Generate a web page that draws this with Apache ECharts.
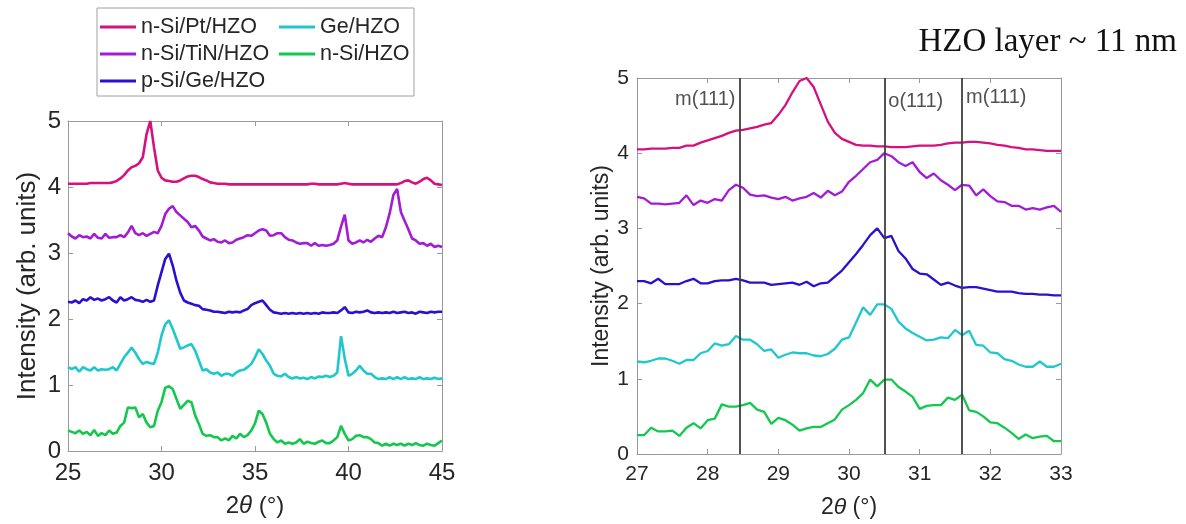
<!DOCTYPE html>
<html>
<head>
<meta charset="utf-8">
<script src="https://cdn.jsdelivr.net/npm/echarts@6/dist/echarts.min.js"></script>
<style>
html,body{margin:0;padding:0;background:#fff;}
#chart{width:1186px;height:524px;}
</style>
</head>
<body>
<div id="chart"></div>
<script>
// ---------- DATA ----------
const seriesNames = ['n-Si/Pt/HZO', 'n-Si/TiN/HZO', 'p-Si/Ge/HZO', 'Ge/HZO', 'n-Si/HZO'];
const seriesColors = ['#D4117F', '#A21CD6', '#2C10CF', '#1EC8CC', '#14C84E'];

// Left panel: 2theta from 25 to 45, sampled every 0.2 deg
const leftStart = 25, leftStep = 0.2;
const leftPt = [4.05,4.05,4.05,4.05,4.05,4.05,4.06,4.06,4.06,4.06,4.06,4.06,4.07,4.09,4.13,4.18,4.25,4.30,4.32,4.36,
  4.45,4.80,5.00,4.60,4.25,4.14,4.10,4.09,4.08,4.08,4.10,4.13,4.16,4.17,4.17,4.15,4.12,4.10,4.07,4.06,4.05,
  4.05,4.05,4.04,4.04,4.04,4.04,4.04,4.04,4.04,4.04,4.04,4.04,4.04,4.04,4.04,4.04,4.04,4.04,4.04,4.04,4.04,4.04,4.04,4.04,4.05,4.05,4.04,4.04,4.04,4.04,4.04,4.04,4.05,
  4.06,4.05,
  4.04,4.04,4.04,4.04,4.04,4.04,4.04,4.04,4.04,4.04,4.04,4.04,4.04,
  4.06,4.09,4.10,4.07,4.05,4.08,4.12,4.14,4.10,4.05,4.04,4.03];
const leftTiN = [3.30,3.25,3.22,3.27,3.24,3.25,3.22,3.29,3.23,3.22,3.29,3.23,3.24,3.24,3.27,3.24,3.31,3.41,3.30,3.27,
  3.30,3.26,3.29,3.32,3.30,3.41,3.59,3.67,3.71,3.62,3.57,3.52,3.47,3.39,3.41,3.34,3.25,3.22,3.19,3.21,
  3.17,3.16,3.19,3.15,3.16,3.20,3.22,3.24,3.27,3.26,3.30,3.34,3.36,3.34,3.26,3.27,3.30,3.30,3.24,3.20,
  3.19,3.16,3.14,3.15,3.15,3.11,3.15,3.11,3.12,3.11,3.12,3.14,3.19,3.40,3.58,3.19,3.14,3.16,3.19,3.16,
  3.20,3.17,3.22,3.26,3.24,3.39,3.60,3.88,3.97,3.62,3.49,3.36,3.22,3.19,3.14,3.15,3.11,3.14,3.09,3.11,3.09];
const leftPSiGe = [2.26,2.25,2.28,2.24,2.30,2.28,2.33,2.29,2.31,2.28,2.30,2.33,2.28,2.25,2.33,2.28,2.30,2.33,2.29,2.28,
  2.26,2.29,2.26,2.28,2.51,2.71,2.91,2.99,2.81,2.58,2.40,2.28,2.25,2.23,2.21,2.20,2.15,2.14,2.13,2.11,
  2.11,2.10,2.09,2.11,2.10,2.11,2.10,2.13,2.15,2.21,2.24,2.26,2.28,2.21,2.14,2.10,2.09,2.08,2.09,2.08,
  2.09,2.08,2.09,2.08,2.09,2.08,2.09,2.08,2.10,2.09,2.09,2.10,2.09,2.13,2.18,2.10,2.09,2.11,2.10,2.11,
  2.13,2.10,2.09,2.10,2.09,2.10,2.09,2.11,2.09,2.10,2.11,2.09,2.10,2.08,2.11,2.10,2.09,2.11,2.10,2.11,2.11];
const leftGe = [1.27,1.24,1.27,1.20,1.27,1.24,1.22,1.27,1.22,1.24,1.23,1.24,1.27,1.22,1.32,1.42,1.49,1.57,1.49,1.39,
  1.32,1.35,1.33,1.32,1.49,1.75,1.92,1.98,1.85,1.70,1.55,1.57,1.60,1.62,1.52,1.37,1.22,1.24,1.19,1.17,
  1.19,1.14,1.17,1.17,1.14,1.19,1.22,1.23,1.27,1.32,1.42,1.54,1.47,1.37,1.29,1.17,1.14,1.13,1.17,1.12,
  1.10,1.12,1.10,1.11,1.09,1.12,1.10,1.13,1.12,1.14,1.12,1.14,1.19,1.74,1.40,1.14,1.17,1.22,1.29,1.22,
  1.17,1.17,1.12,1.09,1.10,1.09,1.12,1.09,1.12,1.09,1.12,1.09,1.10,1.09,1.12,1.09,1.10,1.09,1.11,1.09,1.10];
const leftNSi = [0.31,0.29,0.27,0.31,0.26,0.29,0.24,0.32,0.23,0.27,0.24,0.31,0.26,0.28,0.38,0.43,0.66,0.65,0.66,0.51,
  0.56,0.43,0.36,0.38,0.61,0.74,0.96,0.98,0.94,0.79,0.64,0.70,0.76,0.74,0.54,0.41,0.26,0.23,0.24,0.21,
  0.21,0.16,0.19,0.16,0.23,0.19,0.26,0.21,0.24,0.31,0.42,0.61,0.56,0.43,0.26,0.18,0.13,0.16,0.11,0.13,
  0.11,0.13,0.18,0.11,0.14,0.12,0.11,0.14,0.16,0.12,0.12,0.16,0.21,0.38,0.26,0.16,0.18,0.23,0.24,0.21,
  0.21,0.18,0.13,0.12,0.08,0.11,0.08,0.11,0.09,0.11,0.08,0.11,0.09,0.12,0.09,0.08,0.11,0.09,0.08,0.12,0.16];

// Right panel: 2theta from 27 to 33, sampled every 0.1 deg
const rightStart = 27, rightStep = 0.1;
const rightPt = [4.05,4.05,4.06,4.06,4.06,4.07,4.07,4.10,4.10,4.14,
  4.17,4.20,4.23,4.27,4.30,4.31,4.33,4.35,4.38,4.40,
  4.51,4.64,4.81,4.96,5.00,4.88,4.65,4.42,4.27,4.19,
  4.15,4.11,4.10,4.10,4.09,4.09,4.08,4.08,4.08,4.09,
  4.10,4.10,4.10,4.11,4.13,4.14,4.14,4.15,4.15,4.14,
  4.13,4.11,4.10,4.08,4.07,4.05,4.05,4.04,4.03,4.03,4.03];
const rightTiN = [3.42,3.40,3.33,3.33,3.32,3.33,3.34,3.44,3.31,3.37,
  3.34,3.39,3.37,3.51,3.58,3.54,3.45,3.43,3.44,3.41,
  3.39,3.42,3.37,3.40,3.42,3.47,3.41,3.50,3.44,3.49,
  3.62,3.70,3.79,3.88,3.91,4.00,3.96,3.88,3.83,3.88,
  3.75,3.67,3.73,3.64,3.58,3.51,3.58,3.57,3.44,3.52,
  3.43,3.36,3.35,3.30,3.30,3.25,3.27,3.25,3.28,3.30,3.22];
const rightPSiGe = [2.30,2.30,2.27,2.33,2.26,2.26,2.26,2.30,2.33,2.27,
  2.27,2.30,2.31,2.31,2.33,2.31,2.28,2.28,2.28,2.25,
  2.26,2.27,2.28,2.25,2.29,2.23,2.27,2.28,2.36,2.44,
  2.55,2.66,2.78,2.91,3.00,2.87,2.90,2.70,2.60,2.46,
  2.40,2.39,2.32,2.25,2.28,2.24,2.21,2.22,2.22,2.20,
  2.18,2.16,2.16,2.16,2.14,2.13,2.13,2.12,2.12,2.11,2.11];
const rightGe = [1.23,1.22,1.24,1.27,1.27,1.24,1.20,1.25,1.25,1.34,
  1.37,1.47,1.44,1.46,1.57,1.52,1.52,1.46,1.37,1.39,
  1.28,1.32,1.35,1.34,1.34,1.31,1.30,1.33,1.40,1.52,
  1.55,1.75,1.95,1.85,1.99,1.99,1.93,1.76,1.67,1.61,
  1.56,1.51,1.52,1.55,1.54,1.65,1.58,1.64,1.45,1.44,
  1.35,1.34,1.26,1.24,1.19,1.16,1.16,1.23,1.16,1.16,1.20];
const rightNSi = [0.25,0.25,0.35,0.30,0.30,0.31,0.24,0.35,0.41,0.34,
  0.45,0.47,0.66,0.63,0.63,0.65,0.68,0.59,0.56,0.40,
  0.48,0.45,0.39,0.31,0.34,0.36,0.36,0.41,0.46,0.59,
  0.65,0.72,0.81,0.99,0.90,0.99,0.99,0.89,0.83,0.76,
  0.60,0.64,0.65,0.65,0.75,0.72,0.79,0.58,0.56,0.50,
  0.42,0.41,0.35,0.28,0.20,0.26,0.21,0.23,0.24,0.17,0.17];

// Reference lines (phase positions) in right panel
const refX = [28.45, 30.5, 31.6];
const refNames = ['m(111)', 'o(111)', 'm(111)'];
const refLabelY = [4.71, 4.69, 4.74];
const refLabelSide = ['left', 'right', 'right'];

// Axis ranges / ticks
const leftXRange = [25, 45], leftXInterval = 5;
const rightXRange = [27, 33], rightXInterval = 1;
const yRange = [0, 5], yInterval = 1;

const titleText = 'HZO layer ~ 11 nm';
const yAxisTitle = 'Intensity (arb. units)';
// ---------- END DATA ----------

const leftData = [leftPt, leftTiN, leftPSiGe, leftGe, leftNSi];
const rightData = [rightPt, rightTiN, rightPSiGe, rightGe, rightNSi];

function pairs(start, step, ys) {
  return ys.map((y, i) => [+(start + i * step).toFixed(2), y]);
}

const FONT = '"Liberation Sans", Arial, Helvetica, sans-serif';
const TXT = '#262626';
const AX = '#9a9a9a';

function xAxisDef(grid, range, interval, pos, fontSize, showLabel, nameSize, nameGap) {
  const ax = {
    gridIndex: grid, type: 'value', min: range[0], max: range[1], interval: interval,
    position: pos,
    axisLine: {show: true, onZero: false, lineStyle: {color: AX, width: 1}},
    axisTick: {show: true, inside: true, length: 5, lineStyle: {color: AX}},
    axisLabel: {show: showLabel, color: TXT, fontSize: fontSize, fontFamily: FONT, margin: 10},
    splitLine: {show: false}
  };
  if (showLabel) {
    ax.name = '{a|2}{b|θ}{a| (°)}';
    ax.nameLocation = 'middle';
    ax.nameGap = nameGap;
    ax.nameTextStyle = {
      color: TXT, fontSize: nameSize, fontFamily: FONT,
      rich: {
        a: {color: TXT, fontSize: nameSize, fontFamily: FONT},
        b: {color: TXT, fontSize: nameSize, fontFamily: FONT, fontStyle: 'italic'}
      }
    };
  }
  return ax;
}
function yAxisDef(grid, pos, fontSize, showLabel, nameSize, nameGap, margin) {
  const ax = {
    gridIndex: grid, type: 'value', min: yRange[0], max: yRange[1], interval: yInterval,
    position: pos,
    axisLine: {show: true, onZero: false, lineStyle: {color: AX, width: 1}},
    axisTick: {show: true, inside: true, length: 5, lineStyle: {color: AX}},
    axisLabel: {show: showLabel, color: TXT, fontSize: fontSize, fontFamily: FONT, margin: margin},
    splitLine: {show: false}
  };
  if (showLabel) {
    ax.name = yAxisTitle;
    ax.nameLocation = 'middle';
    ax.nameGap = nameGap;
    ax.nameTextStyle = {color: TXT, fontSize: nameSize, fontFamily: FONT};
  }
  return ax;
}

const series = [];
seriesNames.forEach((name, k) => {
  series.push({
    type: 'line', name: name, xAxisIndex: 0, yAxisIndex: 0,
    data: pairs(leftStart, leftStep, leftData[k]),
    symbol: 'none', showSymbol: false, smooth: false,
    lineStyle: {width: 2.6, color: seriesColors[k]},
    itemStyle: {color: seriesColors[k]},
    silent: true
  });
});
seriesNames.forEach((name, k) => {
  series.push({
    type: 'line', name: name, xAxisIndex: 2, yAxisIndex: 2,
    data: pairs(rightStart, rightStep, rightData[k]),
    symbol: 'none', showSymbol: false, smooth: false,
    lineStyle: {width: 2.3, color: seriesColors[k]},
    itemStyle: {color: seriesColors[k]},
    silent: true
  });
});
// Reference lines + labels
series.push({
  type: 'scatter', name: 'refs', xAxisIndex: 2, yAxisIndex: 2,
  symbolSize: 0, silent: true, z: 5,
  data: refX.map((x, i) => ({
    value: [x, refLabelY[i]],
    label: {
      show: true, formatter: refNames[i], position: refLabelSide[i], distance: 4,
      color: TXT, fontSize: 20, fontFamily: FONT
    }
  })),
  markLine: {
    silent: true, symbol: ['none', 'none'],
    label: {show: false},
    lineStyle: {color: '#404040', width: 1.8, type: 'solid'},
    data: refX.map(x => ({xAxis: x}))
  }
});

const legendCommon = {
  orient: 'vertical', top: 16, padding: 0, itemGap: 5,
  icon: 'rect', itemWidth: 36, itemHeight: 3, selectedMode: false,
  textStyle: {color: TXT, fontSize: 21.5, lineHeight: 22, fontFamily: FONT}
};

const chart = echarts.init(document.getElementById('chart'), null, {renderer: 'canvas'});
chart.setOption({
  animation: false,
  backgroundColor: '#ffffff',
  title: {
    text: titleText, right: 9, top: 26, padding: 0,
    textStyle: {fontFamily: '"Liberation Serif", "Times New Roman", serif', fontSize: 33, fontWeight: 'normal', color: '#111'}
  },
  grid: [
    {left: 68, top: 121, width: 374, height: 330},
    {left: 637, top: 78, width: 424, height: 382}
  ],
  xAxis: [
    xAxisDef(0, leftXRange, leftXInterval, 'bottom', 24, true, 24, 43),
    xAxisDef(0, leftXRange, leftXInterval, 'top', 24, false, 24, 0),
    xAxisDef(1, rightXRange, rightXInterval, 'bottom', 21, true, 23, 42),
    xAxisDef(1, rightXRange, rightXInterval, 'top', 21, false, 23, 0)
  ],
  yAxis: [
    yAxisDef(0, 'left', 24, true, 26, 27, 7),
    yAxisDef(0, 'right', 24, false, 26, 0, 7),
    yAxisDef(1, 'left', 21, true, 23, 13, 8),
    yAxisDef(1, 'right', 21, false, 23, 0, 8)
  ],
  legend: [
    Object.assign({data: [seriesNames[0], seriesNames[1], seriesNames[2]], left: 100}, legendCommon),
    Object.assign({data: [seriesNames[3], seriesNames[4]], left: 279}, legendCommon)
  ],
  graphic: [{
    type: 'rect', silent: true, z: 0,
    shape: {x: 97, y: 8, width: 317, height: 88},
    style: {fill: '#ffffff', stroke: '#a0a0a0', lineWidth: 1}
  }],
  series: series
});
</script>
</body>
</html>
